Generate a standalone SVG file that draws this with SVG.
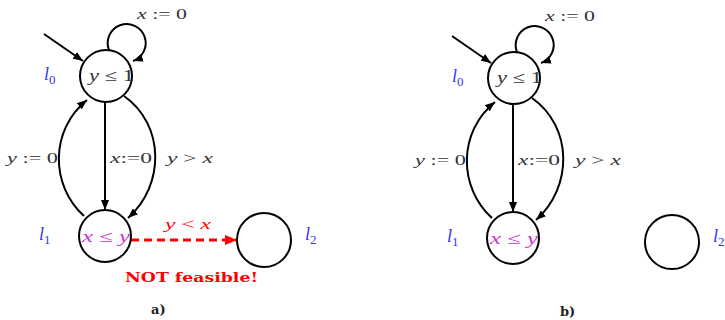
<svg xmlns="http://www.w3.org/2000/svg" width="725" height="320" viewBox="0 0 725 320">
<style>
.st{fill:#fff;stroke:#000;stroke-width:2}
.e{fill:none;stroke:#000;stroke-width:2}
.ed{fill:none;stroke:#f00;stroke-width:3;stroke-dasharray:8 5}
.t{font-family:"Liberation Serif","DejaVu Serif",serif;font-size:15px;fill:#333}
.i{font-style:italic}
.loc{font-family:"Liberation Serif","DejaVu Serif",serif;font-size:18px;fill:#3333ff;font-style:italic}
.sub{font-size:13px;font-style:normal}
.inv0{font-family:"Liberation Serif","DejaVu Serif",serif;font-size:16px;fill:#333}
.inv1{font-family:"Liberation Serif","DejaVu Serif",serif;font-size:16px;fill:#cc33cc}
.red{font-family:"Liberation Serif","DejaVu Serif",serif;font-size:15px;fill:#f00}
.nf{font-family:"DejaVu Serif",serif;font-size:13px;font-weight:bold;fill:#f00}
.cap{font-family:"DejaVu Serif",serif;font-size:13px;font-weight:bold;fill:#222}
</style>
<defs>
<marker id="ah" viewBox="0 0 10 8" refX="10" refY="4" markerWidth="10" markerHeight="8" markerUnits="userSpaceOnUse" orient="auto">
<path d="M0 0 L10 4 L0 8 z" fill="#000"/>
</marker>
<marker id="ahr" viewBox="0 0 12 10" refX="12" refY="5" markerWidth="14" markerHeight="10" markerUnits="userSpaceOnUse" orient="auto">
<path d="M0 0 L12 5 L0 10 z" fill="#f00"/>
</marker>
</defs>

<!-- Panel a -->
<g id="panel-a">
<g id="edges-a">
<path class="e" d="M44 34 L83 61" marker-end="url(#ah)"/>
<path class="e" d="M109 50 A19 19 0 1 1 133 61" marker-end="url(#ah)"/>
<path class="e" d="M84 216 C50 185 50 130 87 100" marker-end="url(#ah)"/>
<path class="e" d="M105 102 L105 210" marker-end="url(#ah)"/>
<path class="e" d="M124 96 C165 125 165 185 128 218" marker-end="url(#ah)"/>
<path class="ed" d="M131 240 L237 240" marker-end="url(#ahr)"/>
<text class="t" x="137" y="19" textLength="50" lengthAdjust="spacingAndGlyphs"><tspan class="i">x</tspan> := 0</text>
<text class="t" x="7" y="163" textLength="51" lengthAdjust="spacingAndGlyphs"><tspan class="i">y</tspan> := 0</text>
<text class="t" x="110" y="163" textLength="42" lengthAdjust="spacingAndGlyphs"><tspan class="i">x</tspan>:=0</text>
<text class="t" x="167" y="163" textLength="46" lengthAdjust="spacingAndGlyphs"><tspan class="i">y</tspan> &gt; <tspan class="i">x</tspan></text>
<text class="red" x="165" y="229" textLength="46" lengthAdjust="spacingAndGlyphs"><tspan class="i">y</tspan> &lt; <tspan class="i">x</tspan></text>
<text class="nf" x="125" y="282" textLength="133" lengthAdjust="spacingAndGlyphs">NOT feasible!</text>
<text class="cap" x="151" y="314">a)</text>
</g>
<g id="l0-a">
<circle class="st" cx="106" cy="76" r="26"/>
<text class="inv0" x="89" y="81" textLength="45" lengthAdjust="spacingAndGlyphs"><tspan class="i">y</tspan> ≤ 1</text>
<text class="loc" x="44" y="80">l<tspan class="sub" dy="4">0</tspan></text>
</g>
<g id="l1-a">
<circle class="st" cx="105" cy="236" r="26"/>
<text class="inv1" x="82" y="242" textLength="48" lengthAdjust="spacingAndGlyphs"><tspan class="i">x</tspan> ≤ <tspan class="i">y</tspan></text>
<text class="loc" x="39" y="240">l<tspan class="sub" dy="4">1</tspan></text>
</g>
<g id="l2-a">
<circle class="st" cx="264" cy="240" r="27"/>
<text class="loc" x="305" y="240">l<tspan class="sub" dy="4">2</tspan></text>
</g>
</g>

<!-- Panel b -->
<g id="panel-b" transform="translate(408,2)">
<g id="edges-b">
<path class="e" d="M44 34 L83 61" marker-end="url(#ah)"/>
<path class="e" d="M109 50 A19 19 0 1 1 133 61" marker-end="url(#ah)"/>
<path class="e" d="M84 216 C50 185 50 130 87 100" marker-end="url(#ah)"/>
<path class="e" d="M105 102 L105 210" marker-end="url(#ah)"/>
<path class="e" d="M124 96 C165 125 165 185 128 218" marker-end="url(#ah)"/>
<text class="t" x="137" y="19" textLength="50" lengthAdjust="spacingAndGlyphs"><tspan class="i">x</tspan> := 0</text>
<text class="t" x="7" y="163" textLength="51" lengthAdjust="spacingAndGlyphs"><tspan class="i">y</tspan> := 0</text>
<text class="t" x="110" y="163" textLength="42" lengthAdjust="spacingAndGlyphs"><tspan class="i">x</tspan>:=0</text>
<text class="t" x="167" y="163" textLength="46" lengthAdjust="spacingAndGlyphs"><tspan class="i">y</tspan> &gt; <tspan class="i">x</tspan></text>
<text class="cap" x="152" y="314">b)</text>
</g>
<g id="l0-b">
<circle class="st" cx="106" cy="76" r="26"/>
<text class="inv0" x="89" y="81" textLength="45" lengthAdjust="spacingAndGlyphs"><tspan class="i">y</tspan> ≤ 1</text>
<text class="loc" x="44" y="80">l<tspan class="sub" dy="4">0</tspan></text>
</g>
<g id="l1-b">
<circle class="st" cx="105" cy="236" r="26"/>
<text class="inv1" x="82" y="242" textLength="48" lengthAdjust="spacingAndGlyphs"><tspan class="i">x</tspan> ≤ <tspan class="i">y</tspan></text>
<text class="loc" x="39" y="240">l<tspan class="sub" dy="4">1</tspan></text>
</g>
<g id="l2-b">
<circle class="st" cx="264" cy="240" r="27"/>
<text class="loc" x="305" y="240">l<tspan class="sub" dy="4">2</tspan></text>
</g>
</g>
</svg>
